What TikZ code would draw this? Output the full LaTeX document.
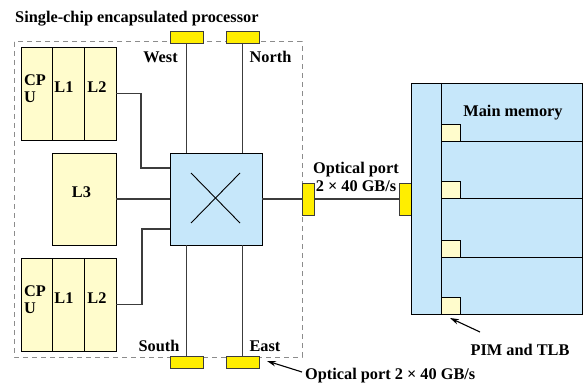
\documentclass[tikz,border=0pt]{standalone}
\usepackage{fontspec}
\setmainfont{Liberation Serif}
\usetikzlibrary{arrows.meta,calc}
\definecolor{cachey}{RGB}{255,252,204}
\definecolor{swblue}{RGB}{198,231,250}
\definecolor{porty}{RGB}{255,238,0}
\definecolor{lineg}{RGB}{60,60,60}
\definecolor{dashg}{RGB}{140,140,140}
\tikzset{
  lbl/.style={font=\fontsize{16.3}{16}\selectfont\bfseries, inner sep=0pt, anchor=base},
  cachebox/.style={draw=black, line width=0.9pt, fill=cachey, inner sep=0pt, outer sep=0pt, minimum height=93pt},
  switchbox/.style={draw=black, line width=0.9pt, fill=swblue, inner sep=0pt, outer sep=0pt},
  portbox/.style={draw=lineg, line width=0.9pt, fill=porty, inner sep=0pt, outer sep=0pt},
  pimbox/.style={draw=black, line width=0.8pt, fill=cachey, inner sep=0pt, outer sep=0pt, minimum width=19pt, minimum height=17pt},
  wire/.style={draw=lineg, line width=1.3pt},
  thin/.style={draw=black, line width=0.9pt},
  pointer/.style={draw=black, line width=1.1pt, -{Stealth[length=9pt,width=5.5pt]}}
}
\begin{document}
\begin{tikzpicture}[x=1pt,y=-1pt]
\useasboundingbox (0,0) rectangle (585,382);
% dashed chip outline
\draw[dashg, line width=1pt, dash pattern=on 5pt off 4pt] (14,42) rectangle (302,357);
\node[lbl, anchor=base west] (title) at (15,23) {Single-chip encapsulated processor};

% upper CPU/L1/L2
\node[cachebox, minimum width=31pt] (cpuA) at (36.5,93.5) {};
\node[cachebox, minimum width=32pt] (l1A) at (68,93.5) {};
\node[cachebox, minimum width=32pt] (l2A) at (100,93.5) {};
\node[lbl, anchor=base west] (cpuAt1) at (24,85.5) {CP};
\node[lbl, anchor=base west] (cpuAt2) at (24,102.5) {U};
\node[lbl] (l1At) at (64,92.5) {L1};
\node[lbl] (l2At) at (97,92.5) {L2};

% L3
\node[cachebox, minimum width=64pt, minimum height=92pt] (l3) at (84,199) {};
\node[lbl] (l3t) at (81.5,197) {L3};

% lower CPU/L1/L2
\node[cachebox, minimum width=31pt] (cpuB) at (36.5,304.5) {};
\node[cachebox, minimum width=32pt] (l1B) at (68,304.5) {};
\node[cachebox, minimum width=32pt] (l2B) at (100,304.5) {};
\node[lbl, anchor=base west] (cpuBt1) at (24,296.5) {CP};
\node[lbl, anchor=base west] (cpuBt2) at (24,313.5) {U};
\node[lbl] (l1Bt) at (64,303) {L1};
\node[lbl] (l2Bt) at (97,303) {L2};

% switch
\node[switchbox, minimum width=92pt, minimum height=92pt] (sw) at (216,199) {};
\draw[thin] (191,173) -- (240,223);
\draw[thin] (240,173) -- (191,223);

% ports
\node[portbox, minimum width=33pt, minimum height=12pt] (pW) at (186.5,37) {};
\node[portbox, minimum width=33pt, minimum height=12pt] (pN) at (242.5,37) {};
\node[portbox, minimum width=33pt, minimum height=12pt] (pS) at (186.5,362) {};
\node[portbox, minimum width=33pt, minimum height=12pt] (pE) at (242.5,362) {};
\node[portbox, minimum width=12pt, minimum height=32pt] (pL) at (308,199) {};
\node[portbox, minimum width=12pt, minimum height=32pt] (pR) at (405,199) {};

\node[lbl] (west) at (160.5,63) {West};
\node[lbl] (north) at (270.5,63) {North};
\node[lbl] (south) at (159,351) {South};
\node[lbl] (east) at (265,351) {East};

% wires
\coordinate (bendA) at (141,168);
\coordinate (bendB) at (142,229);
\draw[wire] (l2A.east) -| (bendA) -- (sw.west |- bendA);
\draw[wire] (l3.east) -- (sw.west);
\draw[wire] (l2B.east) -| (bendB) -- (sw.west |- bendB);
\draw[wire] (pW.south) -- (pW.south |- sw.north);
\draw[wire] (pN.south) -- (pN.south |- sw.north);
\draw[wire] (pS.north) -- (pS.north |- sw.south);
\draw[wire] (pE.north) -- (pE.north |- sw.south);
\draw[wire] (sw.east) -- (pL.west);
\draw[wire] (pL.east) -- (pR.west);

\node[lbl] (op1) at (356,173.5) {Optical port};
\node[lbl] (op2) at (356,191.5) {2 × 40 GB/s};

% main memory
\node[switchbox, minimum width=171pt, minimum height=231pt] (mem) at (496.5,198.5) {};
\coordinate (r1) at (441,141);
\coordinate (r2) at (441,198);
\coordinate (r3) at (441,257);
\draw[thin] (mem.north -| r1) -- (mem.south -| r1);
\draw[thin] (r1) -- (mem.east |- r1);
\draw[thin] (r2) -- (mem.east |- r2);
\draw[thin] (r3) -- (mem.east |- r3);
\node[pimbox] (pim1) at (450.5,132.5) {};
\node[pimbox] (pim2) at (450.5,189.5) {};
\node[pimbox] (pim3) at (450.5,248.5) {};
\node[pimbox] (pim4) at (450.5,305.5) {};
\node[lbl] (mm) at (513,116.5) {Main memory};

\node[lbl] (pimt) at (520,355) {PIM and TLB};
\coordinate (pimtail) at (480,332);
\coordinate (pimtip) at (450,318);
\draw[pointer] (pimtail) -- (pimtip);

\node[lbl, anchor=base west] (opb) at (305,379) {Optical port 2 × 40 GB/s};
\coordinate (optail) at (302,372);
\coordinate (optip) at (267,361);
\draw[pointer] (optail) -- (optip);
\end{tikzpicture}
\end{document}
